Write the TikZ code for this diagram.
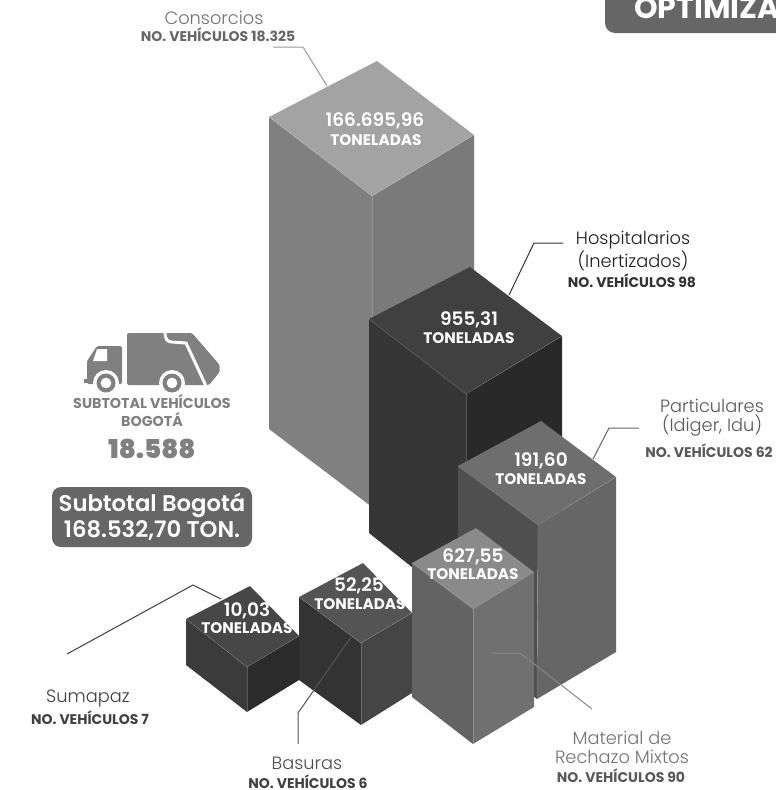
\documentclass[tikz,border=0pt]{standalone}
\usepackage{fontspec}
\setmainfont{Poppins}
\newfontfamily\lightf{Poppins Light}
\newfontfamily\boldf{Poppins SemiBold}
\newfontfamily\bolderf{Poppins Bold}
\newfontfamily\heavyf{Poppins Black}
\newcommand{\isobox}[4]{%
  \fill[#3] (#1-l) -- (#1-f) -- (#1-fb) -- (#1-lb) -- cycle;
  \fill[#4] (#1-f) -- (#1-r) -- (#1-rb) -- (#1-fb) -- cycle;
  \fill[#2] (#1-l) -- (#1-b) -- (#1-r) -- (#1-f) -- cycle;
  \draw[faceedge] (#1-l) -- (#1-f) -- (#1-r);
  \draw[faceedge] (#1-f) -- (#1-fb);
}
\newcommand{\corners}[7]{%
  \coordinate (#1-l) at (#2); \coordinate (#1-b) at (#3);
  \coordinate (#1-r) at (#4); \coordinate (#1-f) at (#5);
  \coordinate (#1-lb) at (#6); \coordinate (#1-fb) at (#7);
}
\tikzset{
  faceedge/.style={draw=white,draw opacity=.22,line width=.4pt},
  val/.style={text=white,font=\boldf\fontsize{18.5}{18.5}\selectfont,inner sep=0pt,align=center},
  ton/.style={text=white,font=\bolderf\fontsize{15.3}{15.3}\selectfont,inner sep=0pt},
  cat/.style={font=\lightf\fontsize{17.8}{19}\selectfont,inner sep=0pt,align=center},
  veh/.style={font=\bolderf\fontsize{14}{14}\selectfont,inner sep=0pt},
  leader/.style={line width=1pt},
}
\definecolor{c65}{gray}{.40}
\begin{document}
\begin{tikzpicture}[x=1pt,y=-1pt]
\useasboundingbox (0,0) rectangle (776,790);
\fill[white] (0,0) rectangle (776,790);

% top-right banner
\fill[c65,rounded corners=10pt] (605,-20) rectangle (800,33);
\node[anchor=base west,text=white,font=\bolderf\fontsize{30}{30}\selectfont,inner sep=0pt] (banner) at (634,18) {OPTIMIZA};

% cubes
\corners{c}{269,117}{377,61}{474,135}{372,196}{269,429}{372,507}
\coordinate (c-rb) at (474,445);
\isobox{c}{black!36}{black!50}{black!52}
\corners{h}{369,319}{470,267}{562,336}{466,394}{369,533}{466,610}
\coordinate (h-rb) at (562,555);
\isobox{h}{black!75}{black!79}{black!84}
\corners{p}{458,466}{541,421}{616,477}{538,525}{458,640}{537,699}
\coordinate (p-rb) at (616,652);
\isobox{p}{black!57}{black!69}{black!60}
\corners{s}{186,619}{250,586}{299,636}{247,667}{186,665}{247,712}
\coordinate (s-rb) at (299,680);
\isobox{s}{black!72}{black!77}{black!83}
\corners{u}{299,597}{363,563}{412,613}{361,643}{299,680}{361,725}
\coordinate (u-rb) at (412,693);
\isobox{u}{black!67}{black!80}{black!73}
\corners{m}{412,563}{476,528}{534,572}{473,609}{412,697}{473,744}
\coordinate (m-rb) at (534,707);
\isobox{m}{black!46}{black!61}{black!56}

% values on the tops
\node[val] (v1) at (375,121) {166.695,96};
\node[ton] (t1) at (376,140) {TONELADAS};
\node[val] (v2) at (469,320) {955,31};
\node[ton] (t2) at (469,338) {TONELADAS};
\node[val] (v3) at (541,461) {191,60};
\node[ton] (t3) at (541,479) {TONELADAS};
\node[val] (v4) at (473,557) {627,55};
\node[ton] (t4) at (473,574) {TONELADAS};
\node[val] (v5) at (359,586) {52,25};
\node[ton] (t5) at (360,604) {TONELADAS};
\node[val] (v6) at (247,611) {10,03};
\node[ton] (t6) at (247,628) {TONELADAS};

% labels
\node[cat,text=black!55] (lc) at (214,18) {Consorcios};
\node[veh,text=black!60] (nc) at (218,34.5) {NO. VEHÍCULOS 18.325};
\node[cat,text=black!88] (lh) at (633,251) {Hospitalarios\\(Inertizados)};
\node[veh,text=black!80] (nh) at (632,280.5) {NO. VEHÍCULOS 98};
\node[cat,text=black!65] (lp) at (712,418) {Particulares\\(Idiger, Idu)};
\node[veh,text=black!65] (np) at (709,450.5) {NO. VEHÍCULOS 62};
\node[cat,text=black!55] (lm) at (622,747) {Material de\\Rechazo Mixtos};
\node[veh,text=black!65] (nm) at (621,775.5) {NO. VEHÍCULOS 90};
\node[cat,text=black!75] (ls) at (88,698) {Sumapaz};
\node[veh,text=black!75] (ns) at (90,717.5) {NO. VEHÍCULOS 7};
\node[cat,text=black!70] (lu) at (307,763) {Basuras};
\node[veh,text=black!75] (nu) at (308,781.5) {NO. VEHÍCULOS 6};

% leaders
\coordinate (a1) at (273,47); \coordinate (a2) at (303,47); \coordinate (a3) at (327,86);
\draw[leader,draw=black!40] (a1) -- (a2) -- (a3);
\coordinate (b1) at (563,243); \coordinate (b2) at (534,243); \coordinate (b3) at (509,295);
\draw[leader,draw=black!80] (b1) -- (b2) -- (b3);
\coordinate (d1) at (639,428); \coordinate (d2) at (609,428); \coordinate (d3) at (593,459);
\draw[leader,draw=black!60] (d1) -- (d2) -- (d3);
\coordinate (e1) at (491,653); \coordinate (e2) at (520,653); \coordinate (e3) at (592,709);
\draw[leader,draw=black!47] (e1) -- (e2) -- (e3);
\coordinate (f1) at (298,744); \coordinate (f2) at (298,713); \coordinate (f3) at (351,637);
\draw[leader,draw=black!67] (f1) -- (f2) -- (f3);
\coordinate (g1) at (67,654); \coordinate (g2) at (193,585); \coordinate (g3) at (221,599);
\draw[leader,draw=black!75] (g1) -- (g2) -- (g3);

% truck
\fill[black!50,rounded corners=1.5pt] (87,361) -- (97,346) -- (122,346) -- (122,384) -- (87,384) -- cycle;
\fill[black!50] (84,379) rectangle (90,383);
\fill[white] (93,361) -- (97,349) -- (107,349) -- (107,361) -- cycle;
\fill[black!50,rounded corners=1.5pt] (127,333) -- (192,333) -- (218,363) .. controls (220,366) and (220,371) .. (218,374) -- (209,385) -- (127,385) -- cycle;
\draw[white,line width=3pt] (165,332) .. controls (165,340) and (168,342) .. (172,342) -- (186,343) -- (206,386);
\fill[black!50] (173,338.5) circle (2.2pt);
\fill[white] (106,383) circle (13pt);
\fill[white] (172,383) circle (13pt);
\fill[black!50,even odd rule] (106,383) circle (9.5pt) (106,383) circle (5.5pt);
\fill[black!50,even odd rule] (172,383) circle (9.5pt) (172,383) circle (5.5pt);

% subtotals
\node[font=\bolderf\fontsize{14.3}{17.5}\selectfont,text=black!50,inner sep=0pt,align=center] (sv) at (152,410.5) {SUBTOTAL VEHÍCULOS\\BOGOTÁ};
\node[font=\heavyf\fontsize{26}{26}\selectfont,text=black!50,inner sep=0pt] (snum) at (152,449) {18.588};
\node[fill=c65,rounded corners=9pt,minimum width=200pt,minimum height=60pt,inner sep=0pt,text=white,align=center,font=\boldf\fontsize{22.7}{26}\selectfont] (stot) at (152,517) {Subtotal Bogotá\\168.532,70 TON.};
\end{tikzpicture}
\end{document}
